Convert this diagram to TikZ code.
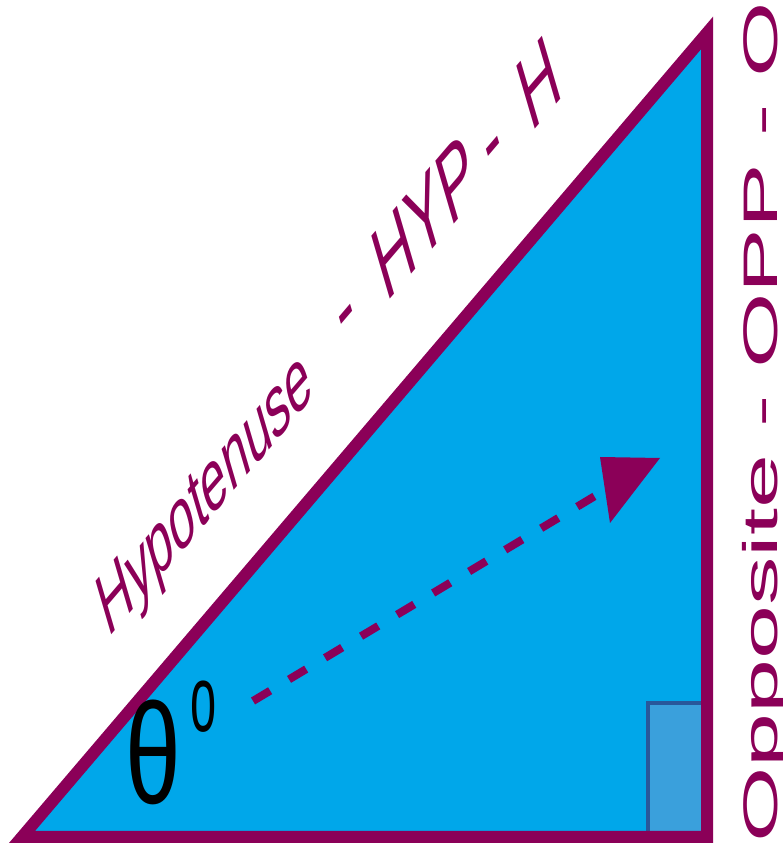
\documentclass[tikz,border=0pt]{standalone}
\usepackage{fontspec}
\setmainfont{Liberation Sans}
\definecolor{tripurple}{RGB}{139,0,88}
\definecolor{triblue}{RGB}{0,167,234}
\definecolor{sqfill}{RGB}{58,160,220}
\definecolor{sqline}{RGB}{40,88,155}
\tikzset{
  lbl/.style={text=tripurple, inner sep=0pt, transform shape},
  hyplbl/.style={lbl, rotate=30.41, anchor=base},
  edge/.style={tripurple, line width=12pt, line join=miter},
  dashline/.style={tripurple, line width=8pt, dash pattern=on 20pt off 22pt}
}
\begin{document}
\begin{tikzpicture}[x=1pt,y=1pt]
\useasboundingbox (0,0) rectangle (783,847);
\begin{scope}[xscale=0.5]
  \coordinate (A) at (44,10);
  \coordinate (B) at (1414,814);
  \coordinate (C) at (1414,10);
  \fill[triblue] (A) -- (B) -- (C) -- cycle;
  \draw[sqline, line width=4pt, fill=sqfill] (1296,10) rectangle (1414,144);
  \draw[edge] (A) -- (B) -- (C) -- cycle;
  % hypotenuse label
  \node[hyplbl, font=\fontsize{90}{90}\selectfont] (hyp) at (424.1,330.4) {Hypotenuse};
  \node[hyplbl, font=\fontsize{106}{106}\selectfont] (d1) at (706,508) {-};
  \node[hyplbl, font=\fontsize{106}{106}\selectfont] (hyp2) at (867.3,598.7) {HYP};
  \node[hyplbl, font=\fontsize{106}{106}\selectfont] (d2) at (1000.1,676.6) {-};
  \node[hyplbl, font=\fontsize{106}{106}\selectfont] (hyp3) at (1095.8,732.8) {H};
  % opposite label
  \node[lbl, rotate=90, anchor=base west, font=\fontsize{97}{97}\selectfont] (opp) at (1554,4) {Opposite - OPP - O};
  % degree mark
  \node[transform shape, inner sep=0pt, anchor=base, font=\fontsize{94}{94}\selectfont] (deg) at (407,115) {o};
  % dashed arrow
  \coordinate (as) at (506,146);
  \coordinate (am) at (1210,357);
  \coordinate (tip) at (1320,389);
  \coordinate (b1) at (1200,390);
  \coordinate (b2) at (1220,324);
  \draw[dashline] (as) -- (am);
  \fill[tripurple] (tip) -- (b1) -- (b2) -- cycle;
\end{scope}
% angle symbol (image coordinates)
\node[xscale=0.7, inner sep=0pt, anchor=base, font=\fontsize{143}{143}\selectfont] (theta) at (153.5,43) {θ};
\end{tikzpicture}
\end{document}
